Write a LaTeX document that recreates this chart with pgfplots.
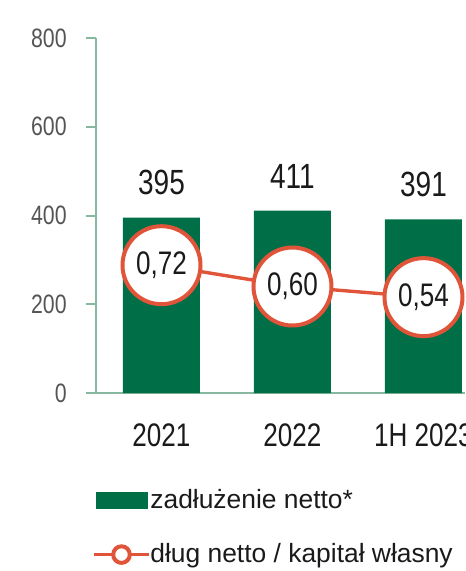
\documentclass[border=0pt]{standalone}
\usepackage{fontspec}
\setmainfont[FakeStretch=0.8]{Liberation Sans}
\newfontfamily\legfont{Liberation Sans}
\usepackage{pgfplots}
\pgfplotsset{compat=1.18}
\definecolor{barg}{HTML}{006F48}
\definecolor{lineo}{HTML}{E0553A}
\definecolor{axc}{HTML}{86B8A0}
\definecolor{tickt}{HTML}{555555}
\definecolor{txt}{HTML}{1A1A1A}
\begin{document}
\begin{tikzpicture}
\begin{axis}[
  at={(0,0)}, anchor=south west,
  scale only axis, width=184.5pt, height=177.5pt,
  xmin=-0.5, xmax=2.317, ymin=0, ymax=800,
  axis lines*=left,
  axis line style={draw=axc, line width=1pt},
  ytick={0,200,400,600,800},
  xtick={0,1,2}, xticklabels={2021,2022,1H 2023},
  x tick style={draw=none},
  y tick style={draw=axc, line width=1pt},
  tick align=outside, major tick length=5pt,
  /pgf/number format/assume math mode=true,
  yticklabel style={font=\fontsize{13.3}{13.3}\selectfont, text=tickt, anchor=east, inner sep=0pt, xshift=-9.5pt},
  xticklabel style={font=\fontsize{16.3}{16.3}\selectfont, text=txt, anchor=center, inner sep=0pt, yshift=-16pt},
  ybar, bar width=38.5pt,
  clip=false,
  legend style={draw=none, fill=none, at={(0,0)}, anchor=north west, xshift=-2pt, yshift=-48pt,
    font=\legfont\fontsize{13.2}{13.2}\selectfont, text=txt, inner sep=0pt, row sep=16pt,
    nodes={inner sep=0pt},
    /tikz/every even column/.append style={column sep=2pt}},
  legend cell align=left,
]
\addplot[fill=barg, draw=none,
  nodes near coords={\pgfmathprintnumber[fixed, precision=0, assume math mode=true]{\pgfplotspointmeta}},
  point meta=y,
  every node near coord/.append style={font=\fontsize{17.5}{17.5}\selectfont, text=txt, anchor=south, inner sep=0pt, yshift=11pt},
  legend image code/.code={\fill[barg] (0pt,-4.4pt) rectangle (26pt,4.4pt);}]
  coordinates {(0,395) (1,411) (2,391)};
\addlegendentry{zadłużenie netto*}
\addlegendimage{legend image code/.code={\draw[lineo, line width=1.7pt] (-0.8pt,0pt)--(26.5pt,0pt); \draw[lineo, line width=2pt, fill=white] (12.9pt,0pt) circle (4.15pt);}}
\addlegendentry{dług netto / kapitał własny}
\end{axis}
\begin{axis}[
  at={(0,0)}, anchor=south west,
  scale only axis, width=184.5pt, height=177.5pt,
  xmin=-0.5, xmax=2.317, ymin=0, ymax=2,
  hide axis, clip=false,
]
\addplot[lineo, line width=1.7pt, mark=*, mark size=19.5pt,
  mark options={fill=white, draw=lineo, line width=2pt},
  point meta=y,
  nodes near coords={\pgfmathprintnumber[fixed, fixed zerofill, precision=2, use comma, assume math mode=true]{\pgfplotspointmeta}},
  every node near coord/.append style={font=\fontsize{16.3}{16.3}\selectfont, text=txt, anchor=center, inner sep=0pt}]
  coordinates {(0,0.72) (1,0.60) (2,0.54)};
\end{axis}
\pgfresetboundingbox
\path[use as bounding box] (-48pt,-89pt) rectangle (184.5pt,196.5pt);
\end{tikzpicture}
\end{document}
